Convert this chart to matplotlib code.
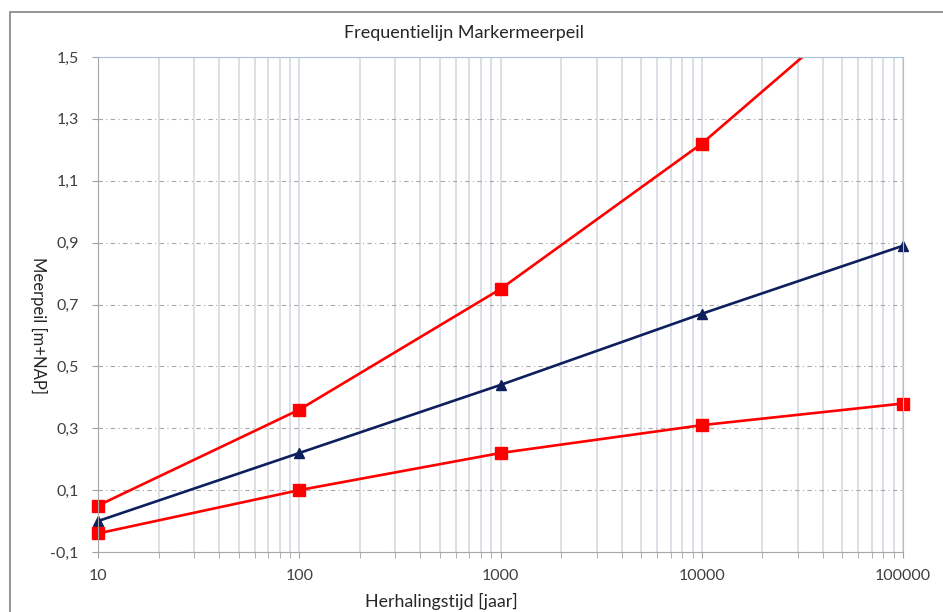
import matplotlib.pyplot as plt
from matplotlib.patches import Rectangle
from matplotlib.ticker import FixedLocator, FixedFormatter, LogLocator, NullFormatter

plt.rcParams['font.family'] = ['Lato', 'DejaVu Sans']

# herhalingstijd [jaar]
jaren = [10, 100, 1000, 10000, 100000]
# bovengrens, verwachting, ondergrens [m+NAP]
boven = [0.05, 0.36, 0.75, 1.22, 1.78]
midden = [0.00, 0.22, 0.44, 0.67, 0.89]
onder = [-0.04, 0.10, 0.22, 0.31, 0.38]

y_ticks = [-0.1, 0.1, 0.3, 0.5, 0.7, 0.9, 1.1, 1.3, 1.5]
y_labels = ['-0,1', '0,1', '0,3', '0,5', '0,7', '0,9', '1,1', '1,3', '1,5']
x_labels = ['10', '100', '1000', '10000', '100000']

fig = plt.figure(figsize=(9.43, 6.12), dpi=100)
# kader rond de grafiek
fig.patches.append(Rectangle((10 / 943, -0.05), 1.0, 1 - 12 / 612 + 0.05,
                             transform=fig.transFigure, fill=False,
                             edgecolor='#8c8c8c', linewidth=1.3))

ax = fig.add_axes([98 / 943, 1 - 552 / 612, (903 - 98) / 943, (552 - 57) / 612])

# alleen aan de bovenkant afknippen, markers op de randen blijven heel
clip = Rectangle((-0.03, -0.05), 1.06, 1.05, transform=ax.transAxes)
for waarden, kleur, mk, ms in [(boven, '#ff0000', 's', 8.5),
                               (midden, '#0d1f5c', '^', 7.5),
                               (onder, '#ff0000', 's', 8.5)]:
    line, = ax.plot(jaren, waarden, color=kleur, linewidth=1.9, marker=mk, markersize=ms)
    line.set_clip_path(clip)

ax.set_xscale('log')
ax.set_xlim(10, 100000)
ax.set_ylim(-0.1, 1.5)

ax.xaxis.set_major_locator(FixedLocator(jaren))
ax.xaxis.set_major_formatter(FixedFormatter(x_labels))
ax.xaxis.set_minor_locator(LogLocator(base=10, subs=range(2, 10)))
ax.xaxis.set_minor_formatter(NullFormatter())
ax.yaxis.set_major_locator(FixedLocator(y_ticks))
ax.yaxis.set_major_formatter(FixedFormatter(y_labels))

ax.grid(True, which='both', axis='x', color='#d2d7df', linewidth=1.1)
ax.grid(True, which='major', axis='y', color='#a8a8a8', linewidth=0.8,
        linestyle=(0, (4, 3, 1, 3)))
ax.set_axisbelow(True)

ax.tick_params(axis='both', which='both', length=4, color='#a0a0a0',
               labelsize=11.5, labelcolor='#404040')
ax.tick_params(axis='x', pad=8)
ax.tick_params(axis='y', pad=10)
for s in ['left', 'bottom']:
    ax.spines[s].set_color('#a6a6a6')
for s in ['top', 'right']:
    ax.spines[s].set_color('#a9c1df')

fig.text(464 / 943, 1 - 33 / 612, 'Frequentielijn Markermeerpeil', fontsize=13,
         color='#262626', ha='center', va='center')
ax.set_xlabel('Herhalingstijd [jaar]', fontsize=12.8, color='#262626')
ax.xaxis.set_label_coords(0.426, -0.083)
ax.set_ylabel('Meerpeil [m+NAP]', fontsize=12, color='#262626', rotation=270,
              va='center')
ax.yaxis.set_label_coords(-0.0745, 0.457)

fig.savefig('out.png', dpi=100)
